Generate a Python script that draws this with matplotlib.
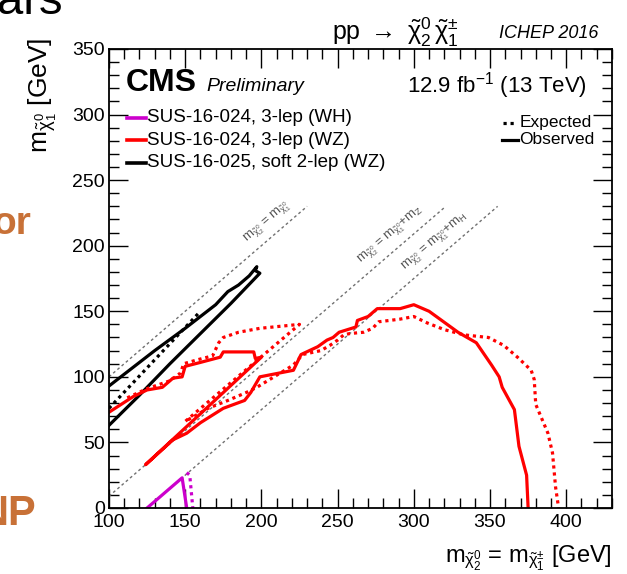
import matplotlib
matplotlib.use("Agg")
import matplotlib.pyplot as plt
from matplotlib.ticker import MultipleLocator

plt.rcParams['font.family'] = ['Liberation Sans', 'DejaVu Sans']
plt.rcParams['mathtext.fontset'] = 'custom'
plt.rcParams['mathtext.rm'] = 'Liberation Sans'
plt.rcParams['mathtext.it'] = 'Liberation Sans:italic'
plt.rcParams['mathtext.default'] = 'regular'

# ---- data ----
# SUS-16-024 3-lep (WZ) observed
wz_obs_x = [100, 116, 125, 135, 142, 148, 150, 160, 173, 175, 195, 196, 200,
            124, 142, 151, 160, 175, 189, 193, 199, 221, 226, 237, 243, 247,
            251, 262, 263, 270, 276, 291, 300, 310, 329, 341, 351, 356, 358,
            366, 369, 374, 375]
wz_obs_y = [73, 85, 90, 92, 99, 100, 108, 111, 115, 119, 119, 114, 115,
            33, 52, 57, 65, 76, 82, 88, 100, 105, 117, 123, 128, 130,
            134, 138, 143, 146, 152, 152, 155, 150, 134, 126, 109, 100, 92,
            75, 47, 25, 0]
# SUS-16-024 3-lep (WZ) expected
wz_exp_x = [112, 125, 140, 147, 149, 158, 168, 172, 175, 185, 199, 225,
            150, 165, 178, 190, 197, 221, 227, 239, 245, 250, 254, 258, 267,
            273, 277, 291, 300, 309, 320, 333, 349, 359, 368, 377, 379, 380,
            388, 391, 393, 395]
wz_exp_y = [84, 91, 97, 103, 110, 113, 116, 126, 130, 134, 137, 140,
            66, 76, 82, 88, 92, 109, 117, 120, 124, 128, 132, 133, 134,
            137, 142, 144, 146, 141, 136, 132, 130, 124, 115, 105, 98, 79,
            57, 42, 16, 0]
# SUS-16-024 3-lep (WH)
wh_obs_x = [125, 148, 151]
wh_obs_y = [0, 23, 0]
wh_exp_x = [151, 153, 155]
wh_exp_y = [27, 25, 0]
# SUS-16-025 soft 2-lep (WZ)
sl_obs_x = [100, 110, 130, 150, 170, 178, 185, 192, 197, 196, 199, 180, 160, 140, 120, 100]
sl_obs_y = [93, 102, 120, 137, 155, 165, 170, 177, 184, 181, 179, 156, 133, 110, 86, 63]
sl_exp_x = [100, 160]
sl_exp_y = [76, 150]

# diagonal reference lines: offsets (0, mZ, mH)
diag_offsets = [0, 91, 125]
diag_labels = [r'm$_{\tilde{\chi}^0_2}$ = m$_{\tilde{\chi}^0_1}$',
               r'm$_{\tilde{\chi}^0_2}$ = m$_{\tilde{\chi}^0_1}$+m$_Z$',
               r'm$_{\tilde{\chi}^0_2}$ = m$_{\tilde{\chi}^0_1}$+m$_H$']
diag_label_x = [193, 268, 297]

legend_entries = ['SUS-16-024, 3-lep (WH)', 'SUS-16-024, 3-lep (WZ)',
                  'SUS-16-025, soft 2-lep (WZ)']

RED = '#ff0000'
MAG = '#cc00cc'
DOT = (0, (1, 1.2))

fig = plt.figure(figsize=(6.27, 5.74), dpi=100)
ax = fig.add_axes([0.1738, 0.115, 0.8022, 0.7997])
ax.set_xlim(100, 430)
ax.set_ylim(0, 350)

ymax_diag = 230
for off, lab, lx in zip(diag_offsets, diag_labels, diag_label_x):
    ax.plot([100, ymax_diag + off], [100 - off, ymax_diag], ls=(0, (2, 2)),
            color='#707070', lw=1.0)
    ax.text(lx, lx - off + 6, lab, rotation=40.7, rotation_mode='anchor',
            ha='left', va='bottom', fontsize=9.5, color='#555555')

ax.plot(sl_obs_x, sl_obs_y, color='black', lw=2.3)
ax.plot(sl_exp_x, sl_exp_y, color='black', lw=2.3, ls=DOT)
ax.plot(wz_obs_x, wz_obs_y, color=RED, lw=2.3)
ax.plot(wz_exp_x, wz_exp_y, color=RED, lw=2.3, ls=DOT)
ax.plot(wh_obs_x, wh_obs_y, color=MAG, lw=2.3)
ax.plot(wh_exp_x, wh_exp_y, color=MAG, lw=2.3, ls=DOT)

# ticks
ax.xaxis.set_major_locator(MultipleLocator(50))
ax.xaxis.set_minor_locator(MultipleLocator(10))
ax.yaxis.set_major_locator(MultipleLocator(50))
ax.yaxis.set_minor_locator(MultipleLocator(10))
ax.tick_params(which='both', direction='in', top=True, right=True,
               labelsize=14, width=1.0)
ax.tick_params(axis='x', pad=4)
ax.tick_params(axis='y', pad=3)
ax.tick_params(which='major', length=14)
ax.tick_params(which='minor', length=7)
for s in ax.spines.values():
    s.set_linewidth(1.3)

# texts
ax.text(0.034, 0.958, 'CMS', transform=ax.transAxes, fontsize=23,
        fontweight='bold', va='top', ha='left')
ax.text(0.193, 0.908, 'Preliminary', transform=ax.transAxes, fontsize=14,
        style='italic', va='baseline', ha='left')
ax.text(0.950, 0.953, r'12.9 fb$^{-1}$ (13 TeV)', transform=ax.transAxes,
        fontsize=16, va='top', ha='right')

colors = [MAG, RED, 'black']
for i, (t, c) in enumerate(zip(legend_entries, colors)):
    y = 0.850 - i * 0.0490
    ax.plot([0.036, 0.074], [y, y], transform=ax.transAxes, color=c, lw=2.6)
    ax.text(0.076, y, t, transform=ax.transAxes, fontsize=13.5, va='center',
            ha='left')
ax.plot([0.784, 0.812], [0.839, 0.839], transform=ax.transAxes, color='black',
        lw=2.3, ls=DOT)
ax.text(0.816, 0.839, 'Expected', transform=ax.transAxes, fontsize=12.5,
        va='center', ha='left')
ax.plot([0.782, 0.813], [0.802, 0.802], transform=ax.transAxes, color='black',
        lw=2.3)
ax.text(0.816, 0.802, 'Observed', transform=ax.transAxes, fontsize=12.5,
        va='center', ha='left')

fig.text(0.63, 0.944, r'pp $\rightarrow$ $\tilde{\chi}^0_2\,\tilde{\chi}^{\pm}_1$',
         fontsize=18, ha='center', va='center')
fig.text(0.955, 0.942, 'ICHEP 2016', fontsize=13, style='italic',
         ha='right', va='center')
fig.text(0.976, 0.028, r'm$_{\tilde{\chi}^0_2}$ = m$_{\tilde{\chi}^{\pm}_1}$ [GeV]',
         fontsize=17, ha='right', va='center')
fig.text(0.069, 0.935, r'm$_{\tilde{\chi}^0_1}$ [GeV]', fontsize=19,
         rotation=90, ha='center', va='top')

# slide remnants
fig.text(-0.005, 0.976, 'ars', fontsize=34, ha='left', va='baseline')
fig.text(-0.012, 0.61, 'or', fontsize=28, fontweight='bold', color='#c87137',
         ha='left', va='center')
fig.text(-0.035, 0.105, 'NP', fontsize=30, fontweight='bold', color='#c87137',
         ha='left', va='center')

fig.savefig('out.png', dpi=100)
